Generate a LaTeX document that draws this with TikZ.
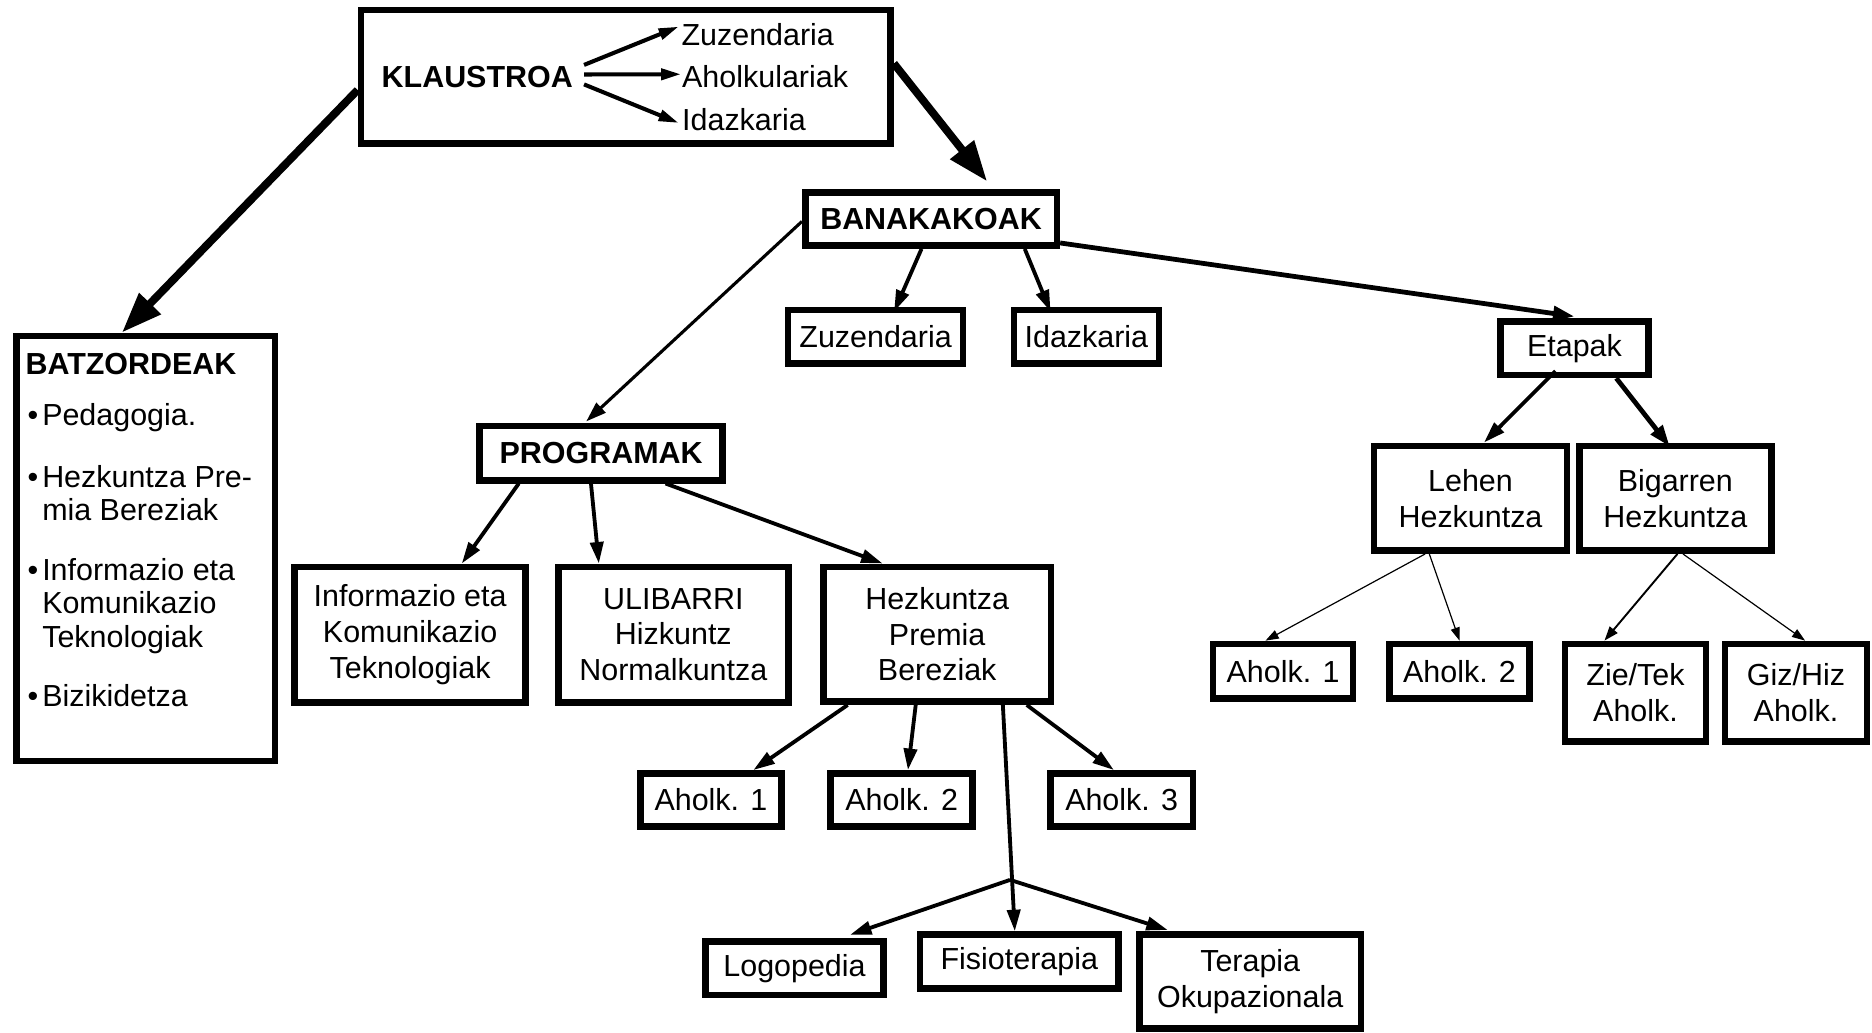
\documentclass[tikz,border=0pt]{standalone}
\usepackage{fontspec}
\setmainfont{Liberation Sans}
\usetikzlibrary{arrows.meta,calc}
\begin{document}
\begin{tikzpicture}[x=0.5pt,y=-0.5pt,
  every node/.style={font=\fontsize{12.75pt}{15pt}\selectfont},
  box/.style={draw,line width=2.75pt,rectangle,align=center,inner sep=0pt},
  txt/.style={inner sep=0pt},
  arrT/.style={line width=3.3pt,-{Triangle[length=17pt,width=12pt]}},
  arrK/.style={line width=1.7pt,-{Triangle[length=8.4pt,width=4.6pt]}},
  arrM/.style={line width=1.6pt,-{Triangle[length=9pt,width=5.5pt]}},
  arrE/.style={line width=2pt,-{Triangle[length=9pt,width=6pt]}},
  arrS/.style={line width=0.5pt,-{Triangle[length=5.5pt,width=3.8pt]}},
]
\useasboundingbox (0,0) rectangle (1568,865);

% KLAUSTROA
\node[box,minimum width=221.85pt,minimum height=55.85pt] (kbox) at (524.1,64.2) {};
\node[txt] (kl) at (399.75,64.2) {\textbf{KLAUSTROA}};
\node[txt,anchor=west] (zu) at (570.5,29.3) {Zuzendaria};
\node[txt,anchor=west] (al) at (571,64) {Aholkulariak};
\node[txt,anchor=west] (id) at (571,100.5) {Idazkaria};

% BATZORDEAK
\node[box,minimum width=108.15pt,minimum height=177.95pt] (bat) at (122.1,459.3) {};
\node[txt,anchor=base west] (bt) at (21,314) {\textbf{BATZORDEAK}};
\node[txt,anchor=base] (b1) at (27.5,356) {•};
\node[txt,anchor=base west] (l1) at (35,356) {Pedagogia.};
\node[txt,anchor=base] (b2) at (27.5,408) {•};
\node[txt,anchor=base west] (l2) at (35,408) {Hezkuntza Pre-};
\node[txt,anchor=base west] (l3) at (35,436) {mia Bereziak};
\node[txt,anchor=base] (b3) at (27.5,486) {•};
\node[txt,anchor=base west] (l4) at (35,486) {Informazio eta};
\node[txt,anchor=base west] (l5) at (35,514) {Komunikazio};
\node[txt,anchor=base west] (l6) at (35,542) {Teknologiak};
\node[txt,anchor=base] (b4) at (27.5,592) {•};
\node[txt,anchor=base west] (l7) at (35,592) {Bizikidetza};

% BANAKAKOAK branch
\node[box,minimum width=105.4pt,minimum height=22.25pt] (ban) at (779.85,183.5) {\textbf{BANAKAKOAK}};
\node[box,minimum width=73.35pt,minimum height=22.25pt] (zu2) at (733.4,282) {Zuzendaria};
\node[box,minimum width=60.8pt,minimum height=22.25pt] (id2) at (909.95,282) {Idazkaria};
\node[box,minimum width=62.05pt,minimum height=22.35pt] (eta) at (1318.8,291.7) {Etapak};

% PROGRAMAK branch
\node[box,minimum width=101.75pt,minimum height=22.75pt] (prog) at (503.5,379.5) {\textbf{PROGRAMAK}};
\node[box,minimum width=96.75pt,minimum height=56.75pt] (itk) at (343.5,531.5) {Informazio eta\\Komunikazio\\Teknologiak};
\node[box,minimum width=96.25pt,minimum height=56.75pt] (uli) at (564,531.5) {ULIBARRI\\Hizkuntz\\Normalkuntza};
\node[box,minimum width=95.25pt,minimum height=56.5pt] (hpb) at (785,531.25) {Hezkuntza\\Premia\\Bereziak};
\node[box,minimum width=59.25pt,minimum height=22.25pt] (a1) at (595.5,670) {Aholk. 1};
\node[box,minimum width=59.5pt,minimum height=22.25pt] (a2) at (755.25,670) {Aholk. 2};
\node[box,minimum width=59.75pt,minimum height=22.25pt] (a3) at (939.5,670) {Aholk. 3};
\node[box,minimum width=74.75pt,minimum height=22.25pt] (logo) at (665.5,811) {Logopedia};
\node[box,minimum width=83pt,minimum height=22.5pt] (fisio) at (853.75,805.25) {Fisioterapia};
\node[box,minimum width=92.7pt,minimum height=39.25pt] (tera) at (1047.15,822) {Terapia\\Okupazionala};

% Etapak branch
\node[box,minimum width=80.95pt,minimum height=43.9pt] (leh) at (1231.7,417.35) {Lehen\\Hezkuntza};
\node[box,minimum width=80.5pt,minimum height=43.75pt] (big) at (1403.25,417.5) {Bigarren\\Hezkuntza};
\node[box,minimum width=58.55pt,minimum height=22.8pt] (ra1) at (1074.7,562.15) {Aholk. 1};
\node[box,minimum width=58.75pt,minimum height=22.8pt] (ra2) at (1222.5,562.15) {Aholk. 2};
\node[box,minimum width=59.15pt,minimum height=40.95pt] (zt) at (1369.9,580.3) {Zie/Tek\\Aholk.};
\node[box,minimum width=59.6pt,minimum height=40.95pt] (gh) at (1504.35,580.3) {Giz/Hiz\\Aholk.};

% connectors
\draw[arrT] ($(kbox.west)+(0,11.2)$) -- ($(bat.north)+(-20,0)$);
\draw[arrT] ($(kbox.east)+(0,-11)$) -- ($(ban.north)+(47,-6.5)$);
\draw[arrK] ($(kl.east)+(9,-9.8)$) -- ($(zu.west)+(-2,-7)$);
\draw[arrK] ($(kl.east)+(9,-1.8)$) -- ($(al.west)+(-0.5,-1.8)$);
\draw[arrK] ($(kl.east)+(9,6.5)$) -- ($(id.west)+(-2.5,2.5)$);

\draw[line width=1.3pt,-{Triangle[length=8.5pt,width=5.5pt]}] ($(ban.west)+(0,2)$) -- ($(prog.north)+(-12.5,-1)$);
\draw[arrM] ($(ban.south)+(-8,0)$) -- ($(zu2.north)+(15.5,4)$);
\draw[arrM] ($(ban.south)+(78.5,0)$) -- ($(id2.north)+(-30,4)$);
\draw[arrE] ($(ban.south east)+(0,-5)$) -- ($(eta.north)+(0,-1.5)$);

\draw[arrM] ($(prog.south)+(-69,0)$) -- ($(itk.north)+(43.3,0)$);
\draw[arrM] ($(prog.south)+(-8.5,0)$) -- ($(uli.north)+(-62.4,0)$);
\draw[arrM] ($(prog.south)+(54,0)$) -- ($(hpb.north)+(-45.7,0)$);

\draw[arrM] ($(hpb.south)+(-75,0)$) -- ($(a1.north)+(35.5,0)$);
\draw[arrM] ($(hpb.south)+(-18,0)$) -- ($(a2.north)+(5.25,0)$);
\draw[arrM] ($(hpb.south)+(75,0)$) -- ($(a3.north)+(-6.5,0)$);
\draw[arrM] ($(hpb.south)+(55,0)$) -- ($(fisio.north)+(-3.75,0)$);
\coordinate (fork) at (846,737);
\draw[arrM] (fork) -- ($(logo.north)+(46.5,-3)$);
\draw[arrM] (fork) -- ($(tera.north)+(-69,-1)$);

\draw[arrM] ($(eta.south)+(-16,-6)$) -- ($(leh.north)+(11.3,0)$);
\draw[arrE] ($(eta.south)+(35,0)$) -- ($(big.north)+(-4.65,3)$);
\draw[arrS] ($(leh.south)+(-38,0)$) -- ($(ra1.north)+(-14.7,0)$);
\draw[arrS] ($(leh.south)+(-34.5,0)$) -- ($(ra2.north)+(0,0)$);
\draw[line width=0.8pt,-{Triangle[length=6pt,width=4.2pt]}] ($(big.south)+(1.75,0)$) -- ($(zt.north)+(-26,0)$);
\draw[arrS] ($(big.south)+(6.4,0)$) -- ($(gh.north)+(7.6,0)$);
\end{tikzpicture}
\end{document}
